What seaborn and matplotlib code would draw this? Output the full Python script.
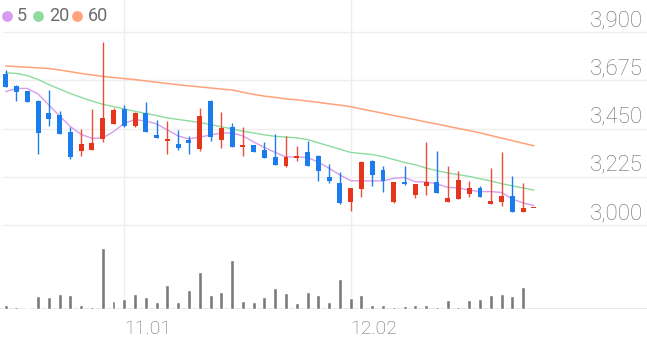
import numpy as np
import pandas as pd
import seaborn as sns
import matplotlib
matplotlib.use("Agg")
import matplotlib.pyplot as plt
import matplotlib.transforms as mtrans

# ---------------- data ----------------
opens = [3704, 3649, 3626, 3581, 3522, 3514, 3433, 3344, 3350, 3402,
         3470, 3540, 3464, 3525, 3419, 3391, 3378, 3395, 3356, 3579,
         3396, 3456, 3366, 3374, 3349, 3319, 3274, 3312, 3341, 3324,
         3223, 3195, 3109, 3167, 3299, 3257, 3109, 3203, 3139, 3182,
         3201, 3109, 3123, 3146, 3174, 3099, 3109, 3134, 3061, 3078]
highs = [3724, 3654, 3628, 3584, 3629, 3534, 3456, 3447, 3543, 3856,
         3545, 3561, 3528, 3576, 3489, 3488, 3444, 3418, 3547, 3582,
         3528, 3476, 3456, 3376, 3389, 3425, 3416, 3370, 3392, 3326,
         3285, 3246, 3173, 3299, 3304, 3276, 3201, 3276, 3192, 3388,
         3346, 3277, 3252, 3206, 3184, 3268, 3342, 3230, 3195, 3078]
lows = [3646, 3579, 3576, 3330, 3464, 3426, 3307, 3322, 3350, 3386,
        3470, 3459, 3459, 3436, 3406, 3332, 3348, 3332, 3346, 3392,
        3358, 3364, 3322, 3340, 3313, 3279, 3272, 3299, 3275, 3207,
        3198, 3097, 3067, 3132, 3184, 3156, 3103, 3187, 3126, 3139,
        3150, 3107, 3121, 3129, 3129, 3097, 3090, 3059, 3059, 3078]
closes = [3646, 3621, 3576, 3428, 3495, 3426, 3316, 3380, 3384, 3501,
          3537, 3464, 3522, 3436, 3406, 3403, 3360, 3382, 3509, 3412,
          3454, 3364, 3374, 3342, 3313, 3280, 3316, 3324, 3276, 3254,
          3206, 3104, 3171, 3296, 3232, 3206, 3199, 3192, 3190, 3199,
          3151, 3128, 3209, 3174, 3131, 3114, 3134, 3061, 3081, 3078]
ma5 = [3623, 3638, 3638, 3612, 3561, 3509, 3460, 3423, 3405, 3407,
       3436, 3475, 3492, 3486, 3472, 3444, 3416, 3402, 3411, 3420,
       3430, 3430, 3416, 3388, 3362, 3339, 3318, 3318, 3315, 3294,
       3265, 3234, 3207, 3206, 3206, 3206, 3218, 3222, 3202, 3201,
       3192, 3176, 3173, 3163, 3156, 3156, 3152, 3121, 3103, 3091]
ma20 = [3711, 3708, 3698, 3680, 3656, 3635, 3614, 3596, 3579, 3564,
        3553, 3542, 3531, 3521, 3511, 3500, 3493, 3486, 3479, 3469,
        3459, 3449, 3438, 3430, 3421, 3414, 3411, 3407, 3399, 3384,
        3369, 3354, 3339, 3334, 3329, 3319, 3306, 3292, 3281, 3266,
        3254, 3243, 3235, 3227, 3216, 3206, 3193, 3183, 3173, 3163]
ma60 = [3743, 3740, 3737, 3734, 3731, 3724, 3716, 3708, 3701, 3694,
        3689, 3684, 3679, 3673, 3667, 3661, 3655, 3650, 3645, 3640,
        3635, 3631, 3620, 3610, 3602, 3596, 3589, 3585, 3579, 3573,
        3566, 3560, 3553, 3542, 3532, 3522, 3511, 3502, 3492, 3481,
        3472, 3461, 3451, 3441, 3430, 3418, 3406, 3394, 3382, 3370]
volume = [3300, 1700, 300, 12700, 11700, 14300, 13300, 3700, 2000, 61000,
          7300, 10000, 14300, 11300, 6700, 23300, 6300, 19000, 36700, 13700,
          17000, 48300, 7700, 7000, 11300, 20300, 16000, 5700, 17000, 13300,
          6700, 29700, 11000, 13700, 3700, 4000, 1300, 2300, 3700, 4000,
          1300, 8300, 1300, 8300, 10000, 13300, 15000, 12700, 22000, 0]
price_ticks = [3000, 3225, 3450, 3675, 3900]
price_tick_labels = ["3,000", "3,225", "3,450", "3,675", "3,900"]
date_tick_idx = [11, 32]
date_tick_labels = ["11.01", "12.02"]
legend_labels = ["5", "20", "60"]

# ---------------- style ----------------
sns.set_style("white")
plt.rcParams["font.family"] = ["Roboto", "DejaVu Sans"]

RED, RED_WICK = "#e5351d", "#ec4d38"
BLUE = "#1a7ced"
C5, C20, C60 = "#d89cee", "#8edb9d", "#ffa27a"
GRID = "#eeeeee"
TXT = "#6c6c6c"

df = pd.DataFrame({"idx": np.arange(len(opens)), "open": opens, "high": highs,
                   "low": lows, "close": closes, "ma5": ma5, "ma20": ma20,
                   "ma60": ma60, "volume": volume})

W, H = 647, 337
fig = plt.figure(figsize=(W / 100, H / 100), dpi=100)
fig.patch.set_facecolor("white")


def px_axes(x0, y0, x1, y1):
    return fig.add_axes([x0 / W, 1 - y1 / H, (x1 - x0) / W, (y1 - y0) / H])


ax = px_axes(0, 0, 647, 240)
axv = px_axes(0, 240, 647, 308.5)

step = 10.78
xlo, xhi = -5.7 / step, (647 - 5.7) / step

# volume
sns.barplot(data=df, x="idx", y="volume", native_scale=True, color="#7a7a7a",
            saturation=1, width=0.37, errorbar=None, ax=axv, zorder=3)
axv.set_ylim(0, 68500)

# gridlines
for p in price_ticks:
    ax.axhline(p, xmin=3 / W, xmax=1, color=GRID, lw=1, zorder=0)
for a in (ax, axv):
    for i in date_tick_idx:
        a.axvline(i, color=GRID, lw=1, zorder=0)
axv.axhline(0, color="#e4e4e4", lw=1.2, zorder=1)

# moving averages
sns.lineplot(data=df, x="idx", y="ma60", color=C60, lw=1.1, ax=ax, zorder=2)
sns.lineplot(data=df, x="idx", y="ma20", color=C20, lw=1.0, ax=ax, zorder=2)
sns.lineplot(data=df, x="idx", y="ma5", color=C5, lw=1.0, ax=ax, zorder=2)

# candles
up = df["close"] >= df["open"]
body_cols = [RED if u else BLUE for u in up]
wick_cols = [RED_WICK if u else BLUE for u in up]
bottom = np.minimum(df["open"], df["close"])
height = np.maximum(np.abs(df["close"] - df["open"]), 6)
ax.vlines(df["idx"], df["low"], df["high"], colors=wick_cols, lw=1.0, zorder=3)
ax.bar(df["idx"], height, bottom=bottom, width=0.46, color=body_cols,
       linewidth=0, zorder=4)

ax.set_ylim(3000 - 15 * 4.671, 3000 + 225 * 4.671)

for a in (ax, axv):
    a.set_xlim(xlo, xhi)
    for s in a.spines.values():
        s.set_visible(False)
    a.set_xlabel("")
    a.set_ylabel("")
    a.set_yticks([])
    a.set_facecolor("none")
ax.set_xticks([])

# price labels above their gridlines
off = mtrans.ScaledTranslation(0, 6 / 100, fig.dpi_scale_trans)
tr = mtrans.blended_transform_factory(ax.transAxes, ax.transData) + off
for p, lab in zip(price_ticks, price_tick_labels):
    ax.text(643 / W, p, lab, transform=tr, ha="right", va="baseline",
            fontsize=16, color=TXT, fontweight="light")

# date labels
axv.set_xticks(date_tick_idx)
axv.set_xticklabels(date_tick_labels, ha="left", fontsize=14, color=TXT,
                    fontweight="light")
axv.tick_params(axis="x", length=0, pad=8)

# legend
leg_cols = [C5, C20, C60]
cx = [7, 38.3, 77.3]
tx = [16.5, 49.0, 88.0]
for c, x, t, lab in zip(leg_cols, cx, tx, legend_labels):
    ax.scatter([x / W], [1 - 15.7 / 240], s=60, color=c, transform=ax.transAxes,
               clip_on=False, zorder=5, linewidths=0)
    ax.text(t / W, 1 - 16.0 / 240, lab, transform=ax.transAxes, ha="left",
            va="center", fontsize=13, color=TXT)

fig.savefig("out.png", dpi=100, facecolor="white")
